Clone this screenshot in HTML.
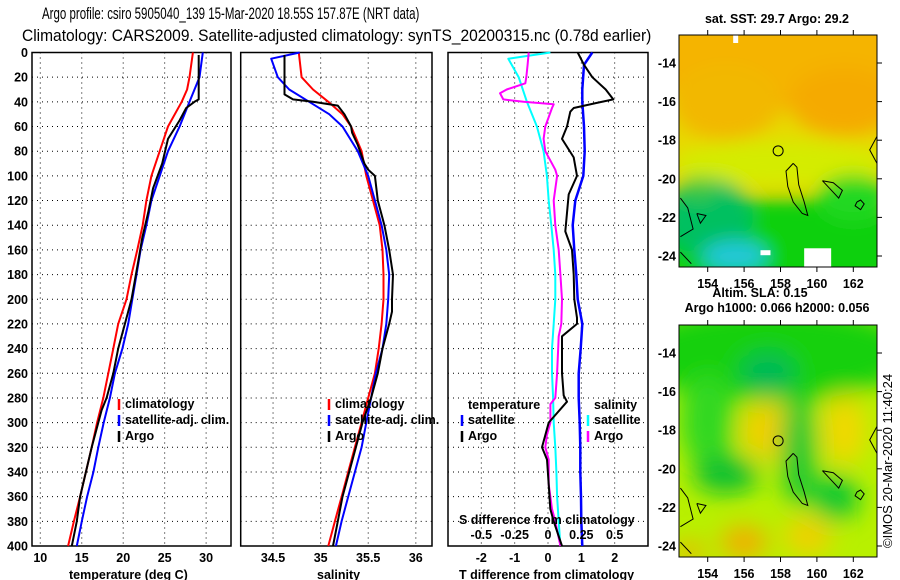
<!DOCTYPE html>
<html><head><meta charset="utf-8"><style>
html,body{margin:0;padding:0;background:#fff;}
svg{display:block;font-family:"Liberation Sans",sans-serif;}
.b{font-weight:bold;font-size:12.5px;}
.grid{stroke:#000;stroke-width:1;stroke-dasharray:1 4;}
</style></head><body>
<svg id="chart" width="900" height="580" viewBox="0 0 900 580" xmlns="http://www.w3.org/2000/svg">
<defs>
<filter id="blur1" x="-50%" y="-50%" width="200%" height="200%"><feGaussianBlur stdDeviation="9"/></filter>
<filter id="blur2" x="-50%" y="-50%" width="200%" height="200%"><feGaussianBlur stdDeviation="12"/></filter>
<clipPath id="clipm1"><rect x="679" y="35" width="198" height="232"/></clipPath>
<clipPath id="clipm2"><rect x="679" y="325" width="198" height="232"/></clipPath>
</defs>
<text transform="translate(42,19) scale(0.697,1)" font-size="16.5">Argo profile: csiro 5905040_139 15-Mar-2020 18.55S 157.87E (NRT data)</text>
<text transform="translate(22,41) scale(0.942,1)" font-size="16.5">Climatology: CARS2009. Satellite-adjusted climatology: synTS_20200315.nc (0.78d earlier)</text>
<g id="panels"></g>
<g id="maps"></g>
<text transform="translate(892,548) rotate(-90)" font-size="13">©IMOS 20-Mar-2020 11:40:24</text>
</svg>
<script>
// ---- data ----
const depthTicks = [0,20,40,60,80,100,120,140,160,180,200,220,240,260,280,300,320,340,360,380,400];
const tempTicks = [10,15,20,25,30];
const salTicks = [34.5,35,35.5,36];
const tdiffTicks = [-2,-1,0,1,2];
const sdiffTicks = [-0.5,-0.25,0,0.25,0.5];
const sdiffTickLabels = ["-0.5","-0.25","0","0.25","0.5"];

const tClimDepth = [0,20,30,40,60,80,100,120,140,160,180,200,220,240,260,280,300,320,340,360,380,400];
const tClimVal   = [28.4,28.0,27.7,27.05,25.4,24.4,23.4,22.8,22.35,21.7,21.0,20.4,19.4,18.8,18.2,17.6,16.85,16.2,15.5,14.8,14.05,13.35];
const tSatDepth = [0,20,40,60,80,100,120,140,160,180,200,220,240,260,280,300,320,340,360,380,400];
const tSatVal   = [29.6,29.2,28.0,26.8,25.4,24.4,23.4,22.8,22.1,21.6,21.1,20.6,19.9,19.0,18.4,17.65,17.0,16.4,15.65,15.0,14.4];
const tArgoDepth = [2,38,40,45,55,70,90,110,130,150,170,200,220,240,260,280,290,300,320,340,360,380,400];
const tArgoVal   = [29.1,29.1,28.6,27.6,26.8,25.4,24.7,23.6,23.0,22.3,21.8,21.0,20.2,19.4,18.8,18.0,17.4,17.0,16.2,15.5,14.8,14.4,13.8];

const sClimDepth = [0,20,30,40,50,60,80,100,120,140,160,180,200,220,240,260,280,300,320,340,360,380,400];
const sClimVal   = [34.77,34.80,34.92,35.08,35.23,35.32,35.43,35.48,35.55,35.62,35.65,35.66,35.66,35.64,35.61,35.57,35.50,35.43,35.36,35.29,35.22,35.15,35.08];
const sSatDepth = [0,5,20,30,40,50,60,80,100,120,140,160,180,200,220,240,260,280,300,320,340,360,380,400];
const sSatVal   = [34.78,34.48,34.55,34.67,34.88,35.09,35.23,35.39,35.50,35.57,35.64,35.69,35.72,35.71,35.69,35.65,35.58,35.53,35.48,35.43,35.36,35.29,35.22,35.16];
const sArgoDepth = [2,34,38,40,43,50,60,65,75,90,95,100,120,140,160,180,200,210,220,240,260,280,300,320,340,360,380,400];
const sArgoVal   = [34.62,34.62,34.71,34.92,35.18,35.25,35.32,35.33,35.39,35.46,35.5,35.57,35.60,35.67,35.72,35.76,35.75,35.75,35.72,35.65,35.60,35.53,35.44,35.37,35.30,35.23,35.18,35.13];

const dTSatDepth = [0,10,30,40,60,80,100,120,140,160,180,200,220,240,260,280,300,320,340,360,380,400];
const dTSatVal   = [1.33,1.08,1.03,1.03,1.08,1.10,1.06,0.82,0.74,0.79,0.85,0.89,1.03,0.98,0.92,0.92,0.95,0.97,0.97,0.99,1.0,1.03];
const dTArgoDepth = [0,10,20,30,38,41,45,48,60,70,85,100,115,130,145,160,180,200,215,220,230,260,278,283,300,320,330,350,370,380,400];
const dTArgoVal   = [0.89,1.08,1.33,1.73,1.96,1.43,0.77,0.67,0.57,0.42,0.77,0.87,0.62,0.57,0.52,0.72,0.77,0.79,0.87,0.87,0.42,0.42,0.47,0.57,0.02,-0.18,-0.03,0.02,0.07,0.17,0.42];
const dSSatDepth = [0,5,20,40,60,80,100,120,140,160,180,200,220,240,260,280,300,320,340,360,380,400];
const dSSatVal   = [0.018,-0.298,-0.22,-0.158,-0.083,-0.033,-0.008,0.005,0.025,0.043,0.055,0.055,0.043,0.03,0.03,0.038,0.043,0.055,0.063,0.068,0.08,0.093];
const dSArgoDepth = [0,10,20,25,30,33,38,40,42,45,60,70,80,95,100,120,140,160,180,200,220,230,260,280,285,300,310,320,330,350,370,380,400];
const dSArgoVal   = [-0.145,-0.153,-0.163,-0.17,-0.31,-0.36,-0.335,-0.183,0.043,0.03,-0.02,-0.033,-0.02,0.055,0.068,0.043,0.055,0.08,0.093,0.105,0.1,0.08,0.068,0.055,0.018,0.018,-0.008,-0.02,0.005,0.005,0.03,0.055,0.093];

const lonTicks = [154,156,158,160,162];
const latTicks = [-14,-16,-18,-20,-22,-24];
const argoLon = 157.87, argoLat = -18.55;

// ---- scales ----
const NS = "http://www.w3.org/2000/svg";
const top0 = 52.5, bot0 = 546;
const yD = d => top0 + (d/400)*(bot0-top0);
function lin(d0,d1,r0,r1){return v => r0 + (v-d0)/(d1-d0)*(r1-r0);}
const P1 = {x0:32,x1:231}, P2 = {x0:240.7,x1:432}, P3 = {x0:448,x1:648};
const xT = lin(9,33,P1.x0,P1.x1);
const xS = lin(34.16,36.17,P2.x0,P2.x1);
const xDT = lin(-3,3,P3.x0,P3.x1);
const xDS = lin(-0.75,0.75,P3.x0,P3.x1);
const panels = document.getElementById('panels');
function mk(tag, attrs, parent){const e=document.createElementNS(NS,tag);for(const k in attrs)e.setAttribute(k,attrs[k]);(parent||panels).appendChild(e);return e;}

function frame(P, name){
  const g = mk('g',{});
  
  
  depthTicks.forEach((d,i)=>{ if(i>0 && i<depthTicks.length-1){
    const l = mk('line',{x1:P.x0,x2:P.x1,y1:yD(d),y2:yD(d),class:'grid'},g);
    
    
  }});
  const r = mk('rect',{x:P.x0,y:top0,width:P.x1-P.x0,height:bot0-top0,fill:'none',stroke:'#000','stroke-width':1.5},g);
  
  
  return g;
}
function vgrid(g, ticks, sc, labels, ly, name){
  ticks.forEach((t,i)=>{
    const x = sc(t);
    const l = mk('line',{x1:x,x2:x,y1:top0,y2:bot0,class:'grid'},g);
    
    
    if(labels){
      const tx = mk('text',{x:x,y:ly,'text-anchor':'middle',class:'b'},g);
      tx.textContent = labels[i];
      
      
    }
  });
}
function series(xs, ys, sc, color, w, name){
  const pts = xs.map((v,i)=>sc(v).toFixed(1)+','+yD(ys[i]).toFixed(1)).join(' ');
  const p = mk('polyline',{points:pts,fill:'none',stroke:color,'stroke-width':w,'stroke-linejoin':'round'});
  
  
}
function txt(x,y,s,name,anchor,color){
  const t = mk('text',{x:x,y:y,class:'b','text-anchor':anchor||'start',fill:color||'#000'});
  t.textContent = s;
  
  
  return t;
}
function legendMark(x,y,color,name){
  const l = mk('line',{x1:x,x2:x,y1:y-10,y2:y+1,stroke:color,'stroke-width':2.5});
  
  
}

// Panel 1: temperature
const g1 = frame(P1,'temperature-panel');
vgrid(g1, tempTicks, xT, tempTicks.map(String), 562, 'temperature-tick-label');
depthTicks.forEach(d=>{
  txt(28, yD(d)+4.5, String(d), 'depth-tick-label', 'end');
});
series(tClimVal, tClimDepth, xT, '#ff0000', 2, 'temperature-climatology-line');
series(tSatVal, tSatDepth, xT, '#0000ff', 2, 'temperature-satellite-line');
series(tArgoVal, tArgoDepth, xT, '#000000', 2, 'temperature-argo-line');
txt(69, 579, 'temperature (deg C)', 'temperature-axis-title');
legendMark(119,409,'#ff0000','legend-climatology-mark'); txt(125,408,'climatology','legend-climatology');
legendMark(119,425,'#0000ff','legend-satellite-mark'); txt(125,424,'satellite-adj. clim.','legend-satellite');
legendMark(119,441,'#000','legend-argo-mark'); txt(125,440,'Argo','legend-argo');

// Panel 2: salinity
const g2 = frame(P2,'salinity-panel');
vgrid(g2, salTicks, xS, ["34.5","35","35.5","36"], 562, 'salinity-tick-label');
series(sClimVal, sClimDepth, xS, '#ff0000', 2, 'salinity-climatology-line');
series(sSatVal, sSatDepth, xS, '#0000ff', 2, 'salinity-satellite-line');
series(sArgoVal, sArgoDepth, xS, '#000000', 2, 'salinity-argo-line');
txt(317, 579, 'salinity', 'salinity-axis-title');
legendMark(329,409,'#ff0000','legend2-climatology-mark'); txt(335,408,'climatology','legend2-climatology');
legendMark(329,425,'#0000ff','legend2-satellite-mark'); txt(335,424,'satellite-adj. clim.','legend2-satellite');
legendMark(329,441,'#000','legend2-argo-mark'); txt(335,440,'Argo','legend2-argo');

// Panel 3: differences
const g3 = frame(P3,'difference-panel');
vgrid(g3, tdiffTicks, xDT, ["-2","-1","0","1","2"], 562, 'tdiff-tick-label');
series(dSSatVal, dSSatDepth, xDS, '#00ffff', 2, 'sdiff-satellite-line');
series(dSArgoVal, dSArgoDepth, xDS, '#ff00ff', 2, 'sdiff-argo-line');
series(dTSatVal, dTSatDepth, xDT, '#0000ff', 2.5, 'tdiff-satellite-line');
series(dTArgoVal, dTArgoDepth, xDT, '#000000', 2, 'tdiff-argo-line');
sdiffTicks.forEach((t,i)=>{ txt(xDS(t), 539, sdiffTickLabels[i], 'sdiff-tick-label', 'middle'); });
txt(459, 524, 'S difference from climatology', 'sdiff-axis-title');
txt(459, 579, 'T difference from climatology', 'tdiff-axis-title');
txt(468, 409, 'temperature', 'legend3-temperature-heading');
legendMark(462,425,'#0000ff','legend3-tsat-mark'); txt(468,424,'satellite','legend3-tsat');
legendMark(462,441,'#000','legend3-targo-mark'); txt(468,440,'Argo','legend3-targo');
txt(594, 409, 'salinity', 'legend3-salinity-heading');
legendMark(588,425,'#00ffff','legend3-ssat-mark'); txt(594,424,'satellite','legend3-ssat');
legendMark(588,441,'#ff00ff','legend3-sargo-mark'); txt(594,440,'Argo','legend3-sargo');

// ---- maps ----
const maps = document.getElementById('maps');
const xLon = lon => 707.7 + (lon-154)*18.2;
function yLat(lat, off){ return 63 + off + (-14-lat)*19.3; }
function blob(g, lon, lat, rx, ry, color, off){
  const e = mk('ellipse',{cx:xLon(lon),cy:yLat(lat,off),rx:rx*18.2,ry:ry*19.3,fill:color},g);
  
  
}
function coast(g, off){
  const shapes = [
    [[158.7,-19.2],[158.3,-19.6],[158.4,-20.4],[158.7,-21.2],[159.2,-21.8],[159.5,-21.9],[159.3,-21.2],[159.0,-20.3],[158.9,-19.4],[158.7,-19.2]],
    [[160.3,-20.1],[160.9,-20.2],[161.4,-20.6],[161.2,-21.0],[160.9,-20.7],[160.3,-20.1]],
    [[152.5,-21.0],[152.9,-21.5],[153.2,-22.6],[152.5,-23.0]],
    [[152.5,-23.8],[153.1,-24.4]],
    [[163.3,-17.8],[162.9,-18.5],[163.3,-19.2]],
    [[162.2,-21.2],[162.4,-21.1],[162.6,-21.3],[162.4,-21.6],[162.1,-21.4],[162.2,-21.2]],
    [[153.4,-21.8],[153.9,-21.9],[153.6,-22.3],[153.4,-21.8]]
  ];
  shapes.forEach(s=>{
    const p = mk('polyline',{points:s.map(q=>xLon(q[0]).toFixed(1)+','+yLat(q[1],off).toFixed(1)).join(' '),fill:'none',stroke:'#000','stroke-width':1},g);
    
    
  });
  const c = mk('circle',{cx:xLon(argoLon),cy:yLat(argoLat,off),r:5,fill:'none',stroke:'#000','stroke-width':1},g);
  
  
}
function mapAxes(g, off, top, name){
  const r = mk('rect',{x:679,y:top,width:198,height:232,fill:'none',stroke:'#000','stroke-width':1},g);
  
  
  lonTicks.forEach(l=>{
    const x = xLon(l);
    mk('line',{x1:x,x2:x,y1:top-5,y2:top,stroke:'#000'},g);
    mk('line',{x1:x,x2:x,y1:top+232,y2:top+237,stroke:'#000'},g);
    const t = mk('text',{x:x,y:top+253,'text-anchor':'middle',class:'b'},g);
    t.textContent = String(l);
    
    
  });
  latTicks.forEach(l=>{
    const y = yLat(l,off);
    mk('line',{x1:877,x2:882,y1:y,y2:y,stroke:'#000'},g);
    const t = mk('text',{x:676,y:y+4.5,'text-anchor':'end',class:'b'},g);
    t.textContent = String(l);
    
    
  });
}
// map 1: SST
const m1 = mk('g',{},maps);


const m1c = mk('g',{'clip-path':'url(#clipm1)'},m1);
mk('rect',{x:679,y:35,width:198,height:232,fill:'#e8d800'},m1c);
const m1b = mk('g',{filter:'url(#blur1)'},m1c);
blob(m1b,158,-13.5,8,3,'#f5b400',0);
blob(m1b,155,-16,3,2,'#f2b800',0);
blob(m1b,161.5,-16,3,1.8,'#f5aa00',0);
blob(m1b,158,-19.2,6,1.2,'#d4ec00',0);
blob(m1b,158,-23.5,8,2.5,'#10d010',0);
blob(m1b,154,-22,2.5,2,'#00c060',0);
blob(m1b,162,-21,2,1.2,'#20d820',0);
blob(m1b,155.5,-24,1.8,0.8,'#20c8d8',0);
blob(m1b,153.5,-20.5,1,0.6,'#40c840',0);
mk('rect',{x:xLon(159.3),y:yLat(-23.6,0),width:27,height:40,fill:'#fff'},m1c);
mk('rect',{x:xLon(156.9),y:yLat(-23.7,0),width:10,height:5,fill:'#fff'},m1c);
mk('rect',{x:xLon(155.4),y:35,width:5,height:8,fill:'#fff'},m1c);
coast(m1c,0);
mapAxes(m1,0,35,'sst-map');
// map 2: SLA
const m2 = mk('g',{},maps);


const m2c = mk('g',{'clip-path':'url(#clipm2)'},m2);
mk('rect',{x:679,y:325,width:198,height:232,fill:'#b8f000'},m2c);
const m2b = mk('g',{filter:'url(#blur2)'},m2c);
blob(m2b,157.5,-14,8,2.5,'#18d010',290);
blob(m2b,157.3,-15,1.5,1,'#00b858',290);
blob(m2b,154,-17.5,1.5,2.5,'#30d820',290);
blob(m2b,157.3,-18,1.5,1.5,'#f0d000',290);
blob(m2b,161.5,-18,1.2,1.8,'#f0d800',290);
blob(m2b,159,-19,1,3,'#20c830',290);
blob(m2b,155,-20.3,1.8,1,'#10c030',290);
blob(m2b,161,-21.5,1.3,1.2,'#10c830',290);
blob(m2b,156,-23.8,1.3,0.8,'#f5aa00',290);
blob(m2b,159.5,-23.5,1.3,1,'#f0d000',290);
blob(m2b,153,-24.3,0.8,0.5,'#f5aa00',290);
coast(m2c,290);
mapAxes(m2,290,325,'sla-map');
txt(777, 23, 'sat. SST: 29.7 Argo: 29.2', 'sst-map-title', 'middle');
txt(760, 297, 'Altim. SLA: 0.15', 'sla-value-label', 'middle');
txt(777, 312, 'Argo h1000: 0.066 h2000: 0.056', 'sla-map-title', 'middle');
</script>
</body></html>
